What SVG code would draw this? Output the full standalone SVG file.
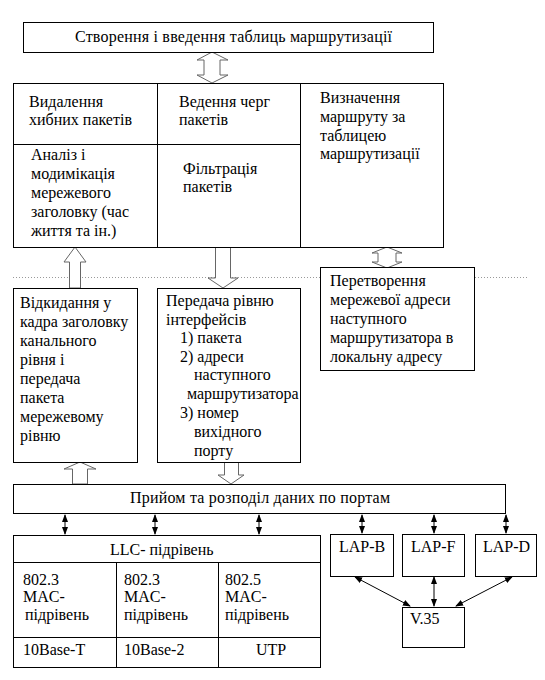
<svg xmlns="http://www.w3.org/2000/svg" width="545" height="680" viewBox="0 0 545 680">
<style>
.b{fill:#fff;stroke:#000;stroke-width:1}
.l{stroke:#000;stroke-width:1;fill:none}
.ba{fill:#fff;stroke:#666;stroke-width:1}
.c{stroke:#000;stroke-width:1;fill:none;marker-start:url(#h);marker-end:url(#h)}
</style>
<defs>
<marker id="h" viewBox="0 0 8 8" refX="7" refY="4" markerWidth="8" markerHeight="8" markerUnits="userSpaceOnUse" orient="auto-start-reverse">
<path d="M0,1 L8,4 L0,7 Z" fill="#000"/>
</marker>
</defs>
<rect width="545" height="680" fill="#fff"/>
<line x1="13" y1="277.5" x2="528" y2="277.5" stroke="#999" stroke-width="1" stroke-dasharray="1,2"/>

<g id="connectors">
<path class="ba" d="M212,52 L228,60 L220,60 L220,75 L228,75 L212,83 L197,75 L204,75 L204,60 L197,60 Z"/>
<path class="ba" d="M75,247 L86,262 L80.5,262 L80.5,288 L69.5,288 L69.5,262 L64,262 Z"/>
<path class="ba" d="M208,278 L215.5,278 L215.5,247 L230.5,247 L230.5,278 L238,278 L223,288 Z"/>
<path class="ba" d="M387,247 L402,253 L396,253 L396,262 L402,262 L387,268 L372,262 L378,262 L378,253 L372,253 Z"/>
<path class="ba" d="M80,462 L96,469 L87.5,469 L87.5,484 L72.5,484 L72.5,469 L64,469 Z"/>
<path class="ba" d="M218,475 L224.5,475 L224.5,462 L238.5,462 L238.5,475 L244,475 L231,484 Z"/>
<line class="c" x1="65" y1="515" x2="65" y2="534"/>
<line class="c" x1="155" y1="515" x2="155" y2="534"/>
<line class="c" x1="259" y1="515" x2="259" y2="534"/>
<line class="c" x1="362" y1="515" x2="362" y2="533"/>
<line class="c" x1="434" y1="515" x2="434" y2="533"/>
<line class="c" x1="506" y1="515" x2="506" y2="533"/>
<line class="c" x1="355" y1="577" x2="410" y2="606"/>
<line class="c" x1="434" y1="577" x2="434" y2="606"/>
<line class="c" x1="512" y1="577" x2="456" y2="606"/>
</g>

<g font-family="'Liberation Serif', serif" font-size="16" fill="#000">
<g id="routing-table">
<rect class="b" x="23.5" y="22.5" width="410" height="30"/>
<text x="75" y="42" textLength="317" lengthAdjust="spacing">Створення і введення таблиць маршрутизації</text>
</g>

<g id="network-layer">
<rect class="b" x="13.5" y="83.5" width="430" height="164"/>
<line class="l" x1="157.5" y1="83.5" x2="157.5" y2="247.5"/>
<line class="l" x1="300.5" y1="83.5" x2="300.5" y2="247.5"/>
<line class="l" x1="13.5" y1="144.5" x2="300.5" y2="144.5"/>
<text x="29" y="107">Видалення</text>
<text x="29" y="125">хибних пакетів</text>
<text x="179" y="107">Ведення черг</text>
<text x="179" y="125">пакетів</text>
<text x="320" y="103">Визначення</text>
<text x="320" y="122">маршруту за</text>
<text x="320" y="141">таблицею</text>
<text x="320" y="159">маршрутизації</text>
<text x="31" y="160">Аналіз і</text>
<text x="31" y="179">модимікація</text>
<text x="31" y="198">мережевого</text>
<text x="31" y="217">заголовку (час</text>
<text x="31" y="236">життя та ін.)</text>
<text x="183" y="174">Фільтрація</text>
<text x="183" y="192">пакетів</text>
</g>

<g id="address-conversion">
<rect class="b" x="320.5" y="267.5" width="154" height="103"/>
<text x="330" y="286">Перетворення</text>
<text x="330" y="305">мережевої адреси</text>
<text x="330" y="324">наступного</text>
<text x="330" y="343">маршрутизатора в</text>
<text x="330" y="362">локальну адресу</text>
</g>

<g id="frame-header">
<rect class="b" x="13.5" y="288.5" width="124" height="174"/>
<text x="20" y="308">Відкидання у</text>
<text x="20" y="327">кадра заголовку</text>
<text x="20" y="346">канального</text>
<text x="20" y="365">рівня і</text>
<text x="20" y="384">передача</text>
<text x="20" y="403">пакета</text>
<text x="20" y="422">мережевому</text>
<text x="20" y="441">рівню</text>
</g>

<g id="interface-transfer">
<rect class="b" x="157.5" y="288.5" width="143" height="174"/>
<text x="166" y="306">Передача рівню</text>
<text x="166" y="325">інтерфейсів</text>
<text x="180" y="343">1) пакета</text>
<text x="180" y="362">2) адреси</text>
<text x="194" y="380">наступного</text>
<text x="187" y="399">маршрутизатора</text>
<text x="180" y="418">3) номер</text>
<text x="194" y="437">вихідного</text>
<text x="194" y="456">порту</text>
</g>

<g id="ports">
<rect class="b" x="13.5" y="484.5" width="492" height="29"/>
<text x="130" y="503" textLength="260" lengthAdjust="spacing">Прийом та розподіл даних по портам</text>
</g>

<g id="llc">
<rect class="b" x="13.5" y="535.5" width="307" height="132"/>
<line class="l" x1="13.5" y1="562.5" x2="320.5" y2="562.5"/>
<line class="l" x1="13.5" y1="637.5" x2="320.5" y2="637.5"/>
<line class="l" x1="116.5" y1="562.5" x2="116.5" y2="667.5"/>
<line class="l" x1="218.5" y1="562.5" x2="218.5" y2="667.5"/>
<text x="110" y="555">LLC- підрівень</text>
<text x="23" y="585">802.3</text>
<text x="23" y="602">MAC-</text>
<text x="25" y="620">підрівень</text>
<text x="124" y="585">802.3</text>
<text x="124" y="602">MAC-</text>
<text x="124" y="620">підрівень</text>
<text x="225" y="585">802.5</text>
<text x="225" y="602">MAC-</text>
<text x="225" y="620">підрівень</text>
<text x="23" y="655">10Base-T</text>
<text x="124" y="655">10Base-2</text>
<text x="256" y="655">UTP</text>
</g>

<g id="lap-b">
<rect class="b" x="330.5" y="534.5" width="63" height="42"/>
<text x="339" y="552">LAP-B</text>
</g>
<g id="lap-f">
<rect class="b" x="402.5" y="534.5" width="62" height="42"/>
<text x="411" y="552">LAP-F</text>
</g>
<g id="lap-d">
<rect class="b" x="475.5" y="534.5" width="61" height="42"/>
<text x="483" y="552">LAP-D</text>
</g>
<g id="v35">
<rect class="b" x="402.5" y="607.5" width="62" height="40"/>
<text x="410" y="624">V.35</text>
</g>
</g>
</svg>
